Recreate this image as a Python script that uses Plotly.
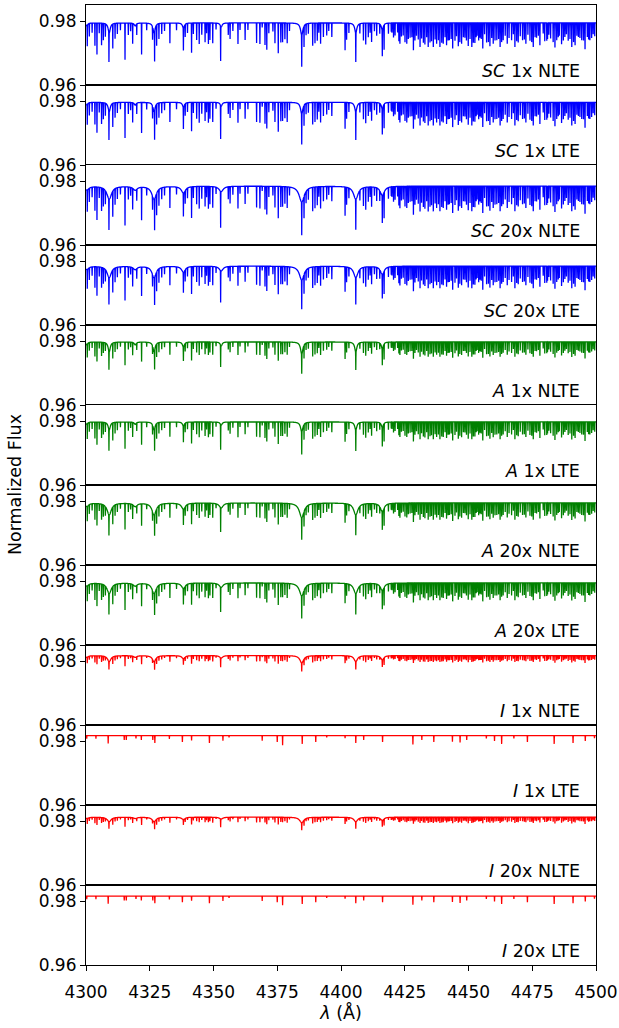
import numpy as np
import plotly.graph_objects as go
from plotly.subplots import make_subplots

# ---- narrow absorption lines (wavelength in Angstrom, depth in normalized flux, read from SC 1x NLTE) ----
line_wave = [4300.5, 4301.3, 4302.4, 4303.5, 4304.3, 4305.2, 4306.1, 4306.8, 4307.6, 4309.0,
             4310.5, 4311.4, 4312.3, 4313.5, 4315.3, 4316.6, 4317.5, 4318.3, 4319.9, 4321.8,
             4323.8, 4326.1, 4326.9, 4327.7, 4328.6, 4329.7, 4330.8, 4332.9, 4335.5, 4338.2,
             4338.9, 4339.8, 4341.4, 4342.1, 4343.4, 4344.4, 4345.4, 4346.7, 4347.3, 4348.0,
             4348.6, 4349.7, 4351.0, 4352.8, 4355.8, 4356.5, 4357.6, 4359.6, 4360.4, 4362.4,
             4363.5, 4366.9, 4368.2, 4369.1, 4370.2, 4370.9, 4371.7, 4373.3, 4374.1, 4375.4,
             4376.4, 4377.1, 4378.0, 4378.9, 4379.8, 4384.6, 4385.5, 4386.3, 4387.2, 4388.9,
             4389.8, 4390.7, 4391.3, 4392.0, 4393.1, 4394.4, 4395.2, 4396.4, 4401.6, 4402.2,
             4403.1, 4405.8, 4407.4, 4408.8, 4409.7, 4410.7, 4411.4, 4412.0, 4413.1, 4414.0,
             4415.2, 4416.2, 4416.9, 4418.6, 4419.7, 4420.0, 4421.2, 4422.2, 4423.1, 4424.4,
             4425.8, 4427.1, 4428.4, 4429.6, 4431.0, 4431.6, 4432.9, 4434.2, 4434.9, 4436.2,
             4437.5, 4438.2, 4438.8, 4440.1, 4441.4, 4442.5, 4443.8, 4444.7, 4445.3, 4446.0,
             4447.3, 4448.6, 4449.9, 4451.3, 4452.5, 4453.4, 4454.5, 4455.6, 4456.3, 4457.1,
             4458.4, 4459.7, 4461.1, 4462.4, 4463.6, 4464.4, 4465.2, 4466.9, 4467.6, 4468.2,
             4469.5, 4470.3, 4471.2, 4472.5, 4473.3, 4474.1, 4475.4, 4476.7, 4477.4, 4478.0,
             4479.3, 4480.7, 4481.5, 4482.2, 4483.9, 4484.6, 4485.6, 4486.5, 4487.8, 4488.4,
             4489.1, 4490.5, 4491.8, 4492.5, 4493.1, 4494.4, 4495.7, 4496.6, 4497.6, 4498.9,
             4499.5]
line_depth = [0.0063, 0.0041, 0.0030, 0.0069, 0.0098, 0.0032, 0.0069, 0.0053, 0.0040, 0.0092,
              0.0074, 0.0048, 0.0032, 0.0020, 0.0113, 0.0037, 0.0025, 0.0061, 0.0032, 0.0098,
              0.0022, 0.0040, 0.0092, 0.0063, 0.0048, 0.0032, 0.0025, 0.0061, 0.0020, 0.0070,
              0.0037, 0.0030, 0.0093, 0.0032, 0.0053, 0.0066, 0.0037, 0.0058, 0.0030, 0.0066,
              0.0053, 0.0061, 0.0020, 0.0108, 0.0037, 0.0048, 0.0025, 0.0066, 0.0022, 0.0053,
              0.0020, 0.0061, 0.0066, 0.0012, 0.0069, 0.0082, 0.0030, 0.0025, 0.0061, 0.0095,
              0.0061, 0.0058, 0.0051, 0.0061, 0.0025, 0.0099, 0.0063, 0.0035, 0.0032, 0.0069,
              0.0063, 0.0053, 0.0030, 0.0065, 0.0044, 0.0039, 0.0025, 0.0044, 0.0085, 0.0052,
              0.0030, 0.0091, 0.0030, 0.0054, 0.0065, 0.0042, 0.0030, 0.0059, 0.0025, 0.0039,
              0.0030, 0.0082, 0.0075, 0.0033, 0.0025, 0.0030, 0.0039, 0.0030, 0.0065, 0.0039,
              0.0065, 0.0044, 0.0085, 0.0040, 0.0075, 0.0049, 0.0065, 0.0075, 0.0059, 0.0075,
              0.0065, 0.0054, 0.0075, 0.0065, 0.0070, 0.0054, 0.0080, 0.0054, 0.0040, 0.0073,
              0.0063, 0.0046, 0.0070, 0.0075, 0.0063, 0.0040, 0.0044, 0.0080, 0.0035, 0.0059,
              0.0073, 0.0063, 0.0054, 0.0075, 0.0054, 0.0040, 0.0065, 0.0052, 0.0035, 0.0075,
              0.0059, 0.0040, 0.0054, 0.0065, 0.0035, 0.0054, 0.0075, 0.0044, 0.0040, 0.0070,
              0.0033, 0.0054, 0.0035, 0.0049, 0.0075, 0.0054, 0.0040, 0.0065, 0.0044, 0.0035,
              0.0054, 0.0073, 0.0070, 0.0040, 0.0044, 0.0054, 0.0080, 0.0044, 0.0054, 0.0033,
              0.0040]

# ---- additional weaker lines filling the crowded red half ----
weak_wave = [4420.6, 4422.7, 4423.7, 4425.1, 4426.4, 4427.8, 4429.0, 4430.3, 4432.3, 4433.6,
             4435.5, 4436.9, 4439.5, 4440.8, 4442.0, 4443.2, 4446.6, 4448.0, 4449.2, 4450.6,
             4451.9, 4453.0, 4454.0, 4455.0, 4457.8, 4459.1, 4460.4, 4461.8, 4463.0, 4465.9,
             4468.9, 4471.9, 4474.8, 4476.1, 4479.9, 4481.0, 4483.2, 4485.2, 4487.2, 4489.8,
             4491.2, 4493.7, 4495.1, 4497.1, 4498.3]
weak_depth = [0.0045, 0.0055, 0.0040, 0.0060, 0.0050, 0.0045, 0.0055, 0.0050, 0.0060, 0.0045,
              0.0055, 0.0050, 0.0060, 0.0045, 0.0055, 0.0050, 0.0060, 0.0045, 0.0055, 0.0050,
              0.0060, 0.0045, 0.0055, 0.0050, 0.0060, 0.0045, 0.0055, 0.0050, 0.0060, 0.0045,
              0.0055, 0.0050, 0.0060, 0.0045, 0.0055, 0.0050, 0.0060, 0.0045, 0.0055, 0.0050,
              0.0060, 0.0045, 0.0055, 0.0050, 0.0045]

# ---- lines with broad (pressure-broadened) wings ----
wing_wave = [4300.3, 4309.1, 4319.3, 4326.7, 4338.2, 4353.0, 4384.6, 4405.8, 4416.2]
wing_depth = [0.0009, 0.0031, 0.0009, 0.0031, 0.0016, 0.0013, 0.0038, 0.0031, 0.0022]
wing_width = [0.45, 0.5, 0.45, 0.5, 0.45, 0.45, 0.55, 0.5, 0.45]

# ---- sparse line list seen in the I LTE models ----
sparse_wave = [4300.3, 4303.9, 4308.7, 4315.0, 4315.8, 4319.6, 4321.7, 4326.2, 4327.0, 4332.7,
               4337.8, 4341.4, 4348.4, 4353.7, 4356.1, 4369.1, 4375.0, 4377.1, 4384.8, 4390.1,
               4394.4, 4401.6, 4405.8, 4408.9, 4416.3, 4428.2, 4431.7, 4436.4, 4443.7, 4446.7,
               4449.3, 4457.0, 4460.2, 4463.0, 4467.8, 4473.1, 4483.6, 4491.0, 4495.8, 4499.4]
sparse_depth = [0.0008, 0.0008, 0.0023, 0.0014, 0.0014, 0.0009, 0.0012, 0.0014, 0.0023, 0.0009,
                0.0020, 0.0015, 0.0023, 0.0014, 0.0006, 0.0014, 0.0020, 0.0028, 0.0026, 0.0020,
                0.0006, 0.0008, 0.0023, 0.0012, 0.0020, 0.0028, 0.0012, 0.0020, 0.0017, 0.0020,
                0.0014, 0.0009, 0.0017, 0.0026, 0.0009, 0.0020, 0.0026, 0.0023, 0.0017, 0.0008]

# ---- panels ----
panel_species = ["SC", "SC", "SC", "SC", "A", "A", "A", "A", "I", "I", "I", "I"]
panel_model = ["1x NLTE", "1x LTE", "20x NLTE", "20x LTE"] * 3
panel_color = ["blue"] * 4 + ["green"] * 4 + ["red"] * 4
panel_continuum = [0.9794, 0.9796, 0.9784, 0.9784, 0.9797, 0.9797, 0.9794, 0.9794,
                   0.9817, 0.9817, 0.9812, 0.9815]
panel_uses_sparse = [False] * 8 + [False, True, False, True]
panel_line_scale = [1.0, 0.97, 1.05, 0.92, 0.62, 0.72, 0.7, 0.72, 0.27, 1.0, 0.24, 0.95]
panel_wing_scale = [1.0, 0.95, 1.3, 1.15, 1.0, 0.8, 1.2, 1.05, 0.6, 0.0, 0.45, 0.0]
panel_wing_broad = [1.0, 1.0, 2.2, 2.0, 1.0, 1.0, 2.0, 2.0, 1.6, 1.0, 1.8, 1.0]

x_ticks = [4300, 4325, 4350, 4375, 4400, 4425, 4450, 4475, 4500]
y_ticks = [0.96, 0.98]

n = len(panel_species)
fig = make_subplots(rows=n, cols=1, shared_xaxes=True, vertical_spacing=0)

lw = np.array(line_wave + weak_wave)
ld = np.array(line_depth + weak_depth)
ww = np.array(wing_wave)
wd = np.array(wing_depth)
wg = np.array(wing_width)
sw = np.array(sparse_wave)
sd = np.array(sparse_depth)

grid = np.unique(np.concatenate([np.arange(4299.0, 4501.0, 0.05), lw, sw, ww]))
sig = 0.035

for i in range(n):
    flux = np.full(grid.shape, panel_continuum[i])
    if panel_uses_sparse[i]:
        cw, cd = sw, sd
    else:
        cw, cd = lw, ld
    prof = np.exp(-0.5 * ((grid[:, None] - cw[None, :]) / sig) ** 2)
    flux -= panel_line_scale[i] * (prof * cd[None, :]).sum(axis=1)
    if panel_wing_scale[i] > 0:
        g = wg * panel_wing_broad[i]
        lor = g[None, :] ** 2 / ((grid[:, None] - ww[None, :]) ** 2 + g[None, :] ** 2)
        flux -= panel_wing_scale[i] * (lor * wd[None, :]).sum(axis=1)
    fig.add_trace(go.Scatter(x=grid, y=flux, mode="lines",
                             line=dict(color=panel_color[i], width=1.3, simplify=False),
                             showlegend=False, hoverinfo="skip"),
                  row=i + 1, col=1)
    fig.add_annotation(text="<i>%s</i> %s" % (panel_species[i], panel_model[i]),
                       xref="x domain" if i == 0 else "x%d domain" % (i + 1),
                       yref="y domain" if i == 0 else "y%d domain" % (i + 1),
                       x=0.973, y=0.17, xanchor="right", yanchor="middle",
                       showarrow=False, font=dict(size=17.5, color="black"))
    fig.update_yaxes(range=[0.96, 0.985], tickvals=y_ticks,
                     ticktext=["0.96", "0.98"], ticks="outside", ticklen=5,
                     tickwidth=1.1, tickcolor="black", automargin=False,
                     showline=True, linecolor="black", linewidth=1.2, mirror=True,
                     showgrid=False, zeroline=False,
                     tickfont=dict(size=17, color="black"), row=i + 1, col=1)
    fig.update_xaxes(range=[4300, 4500], showline=True, linecolor="black",
                     linewidth=1.2, mirror=True, showgrid=False, zeroline=False,
                     tickvals=x_ticks, automargin=False, row=i + 1, col=1)

fig.update_xaxes(ticks="outside", ticklen=5, tickwidth=1.1, tickcolor="black",
                 tickfont=dict(size=17, color="black"),
                 ticktext=[str(t) for t in x_ticks], ticklabelstandoff=6,
                 ticklabeloverflow="allow",
                 title=dict(text="<i>λ</i> (Å)", font=dict(size=17.5, color="black"), standoff=4),
                 row=n, col=1)

fig.add_annotation(text="Normalized Flux", xref="paper", yref="paper",
                   x=-0.139, y=0.5, textangle=-90, showarrow=False,
                   xanchor="center", yanchor="middle",
                   font=dict(size=17.5, color="black"))

fig.update_layout(width=619, height=1028,
                  margin=dict(l=86, r=23, t=5, b=63, autoexpand=False),
                  plot_bgcolor="white", paper_bgcolor="white",
                  font=dict(family="DejaVu Sans", color="black"))

fig.write_html("out.html")
